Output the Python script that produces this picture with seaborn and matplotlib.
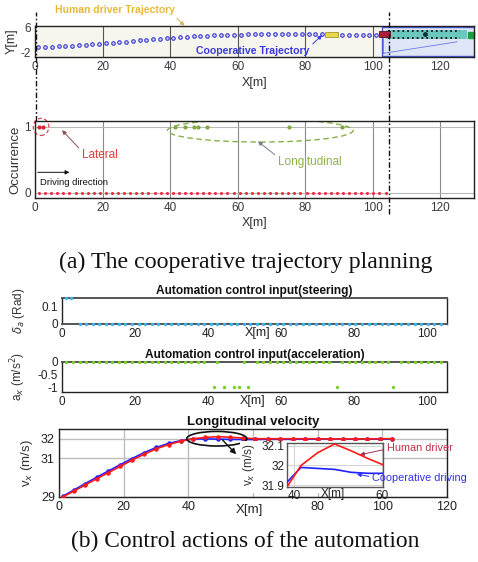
import numpy as np
import pandas as pd
import matplotlib
matplotlib.use("Agg")
import matplotlib.pyplot as plt
import seaborn as sns
from matplotlib.patches import Ellipse, Rectangle

# ---------------- data ----------------
# (a) cooperative trajectory (X [m], Y [m])
traj_x = [1, 3, 5, 7, 9, 11, 13, 15, 17, 19, 21, 23, 25, 27, 29, 31, 33, 35, 37, 39,
          41, 43, 45, 47, 49, 51, 53, 55, 57, 59, 61, 63, 65, 67, 69, 71, 73, 75, 77, 79,
          81, 83, 85, 87, 89, 91, 93, 95, 97, 99, 101, 103]
traj_y = [-0.3, -0.25, -0.2, -0.1, 0.0, 0.1, 0.25, 0.4, 0.55, 0.75, 0.9, 1.1, 1.3, 1.45,
          1.65, 1.85, 2.0, 2.2, 2.4, 2.55, 2.7, 2.85, 3.0, 3.15, 3.3, 3.4, 3.5, 3.6, 3.7,
          3.75, 3.8, 3.85, 3.9, 3.9, 3.9, 3.9, 3.9, 3.9, 3.9, 3.9, 3.9, 3.9, 3.85, 3.85,
          3.85, 3.8, 3.8, 3.8, 3.8, 3.8, 3.8, 3.8]
# scene objects: (x, y, width, height)
yellow_car = (86.0, 3.0, 3.8, 1.5)
red_car = (102.0, 2.9, 3.0, 2.0)
handover_zone = (102.7, -3.3, 27.6, 9.6)
lane_band = (104.0, 2.3, 24.0, 3.0)
handover_x = 104.8

# sampling positions of automation inputs [m]
sample_x = [1.2, 3.0, 4.8, 6.6, 8.4, 10.2, 12.0, 13.8, 15.6, 17.4, 19.2, 21.0, 22.8, 24.6,
            26.4, 28.2, 30.0, 31.8, 33.6, 35.4, 37.2, 39.0, 40.8, 42.6, 44.4, 46.2, 48.0,
            49.8, 51.6, 53.4, 55.2, 57.0, 58.8, 60.6, 62.4, 64.2, 66.0, 67.8, 69.6, 71.4,
            73.2, 75.0, 76.8, 78.6, 80.4, 82.2, 84.0, 85.8, 87.6, 89.4, 91.2, 93.0, 94.8,
            96.6, 98.4, 100.2, 102.0, 103.8]
lat_event_x = [1.2, 2.4]            # lateral (steering) interventions
lat_event_val = 0.15                # rad
long_event_x = [41.6, 44.5, 47.0, 48.4, 51.0, 75.3, 90.8]   # longitudinal interventions
long_event_val = -1.0               # m/s^2

# (b) longitudinal velocity
vel_x = [1.1, 4.6, 8.1, 11.7, 15.3, 18.9, 22.6, 26.3, 30.1, 33.9, 37.7, 41.5, 45.3, 49.2,
         53.0, 56.9, 60.7, 64.6, 68.4, 72.3, 76.1, 80.0, 83.8, 87.7, 91.5, 95.4, 99.2, 103.1]
vel_human = [29.0, 29.3, 29.62, 29.94, 30.26, 30.57, 30.9, 31.2, 31.48, 31.7, 31.87, 32.0,
             32.065, 32.11, 32.075, 32.035, 32.0, 32.0, 32.0, 32.0, 32.0, 32.0, 31.99,
             31.99, 31.99, 31.99, 32.0, 32.0]
vel_coop = [29.03, 29.36, 29.69, 30.02, 30.34, 30.66, 30.98, 31.28, 31.55, 31.76, 31.9,
            31.99, 31.985, 31.98, 31.965, 31.96, 31.96, 31.97, 31.97, 31.97, 31.98, 31.98,
            31.98, 31.98, 31.98, 31.98, 31.98, 31.98]

# ---------------- style ----------------
sns.set_theme(style="white")
plt.rcParams["font.family"] = ["Liberation Sans", "DejaVu Sans"]
plt.rcParams["mathtext.fontset"] = "dejavusans"
plt.rcParams["axes.linewidth"] = 1.0

W, H = 478, 562
fig = plt.figure(figsize=(W / 100, H / 100), dpi=100)


def rect(l, t, r, b):
    return [l / W, 1 - b / H, (r - l) / W, (b - t) / H]


def fp(x, y):
    return (x / W, 1 - y / H)


def style_ax(ax, size=8, color="#333333"):
    ax.tick_params(axis="both", direction="in", length=3, width=0.8, pad=3,
                   labelsize=size, colors=color, labelcolor=color)
    for s in ax.spines.values():
        s.set_color("#222222")
        s.set_linewidth(1.0)


ARW = dict(arrowstyle="-|>", lw=0.7, mutation_scale=6, shrinkA=0, shrinkB=0)

# ================= (a) top: trajectory =================
ax1 = fig.add_axes(rect(35, 26, 474, 57))
ax1.set_facecolor("#f6f6ee")
ax1.set_xlim(0, 130)
ax1.set_ylim(-3.6, 6.6)
ax1.set_xticks([0, 20, 40, 60, 80, 100, 120])
ax1.set_yticks([-2, 6])
ax1.set_yticklabels(["-2", "6"])
ax1.set_axisbelow(True)
ax1.grid(axis="x", color="#555555", lw=0.8)
style_ax(ax1, 8.5, "#3a3a3a")
ax1.set_xlabel("X[m]", fontsize=9, color="#333333", labelpad=3)
ax1.set_ylabel("Y[m]", fontsize=9, color="#333333", labelpad=2)

hx, hy, hw, hh = handover_zone
ax1.add_patch(Rectangle((hx, hy), hw, hh, facecolor="#dfe6f8", edgecolor="#4a5ad8",
                        lw=1.0, zorder=2))
lx, ly, lw_, lh = lane_band
ax1.add_patch(Rectangle((lx, ly), lw_, lh, facecolor="#6cc8bf", edgecolor="none", zorder=2.2))
ax1.plot([lx + 0.5, lx + lw_ - 2], [ly + lh - 0.2, ly + lh - 0.2], ls=":", color="#111111",
         lw=1.3, zorder=2.4)
ax1.plot([lx + 0.5, lx + lw_ - 2], [ly + 0.2, ly + 0.2], ls=":", color="#111111",
         lw=1.3, zorder=2.4)
ax1.plot([hx + 0.4, 125], [-2.4, 1.4], color="#6a78e0", lw=0.6, zorder=2.3)
ax1.plot([hx + 0.4, hx + 0.4], [-2.4, 2.6], color="#6a78e0", lw=0.6, zorder=2.3)
ax1.plot([115.5], [3.9], marker="o", ms=2.5, color="#103030", zorder=2.5)
ax1.plot([129.0], [3.8], marker="s", ms=4.5, color="#1f9e3c", zorder=2.5, clip_on=False)

sns.scatterplot(x=traj_x, y=traj_y, ax=ax1, marker="o", s=6.5, color="#d4d4e8",
                edgecolor="#3a3ad8", linewidth=0.8, zorder=3)
yx, yy, yw, yh = yellow_car
ax1.add_patch(Rectangle((yx, yy), yw, yh, facecolor="#e6d84e", edgecolor="#a89a2a",
                        lw=0.6, zorder=4))
rx, ry, rw, rh = red_car
ax1.add_patch(Rectangle((rx, ry), rw, rh, facecolor="#a8203c", edgecolor="#601020",
                        lw=0.6, zorder=4))

dash = (0, (4, 1.6, 1.2, 1.6))
ax1.axvline(handover_x, ymin=(57 - 214) / 31, ymax=(57 - 12) / 31, color="#111111",
            lw=1.0, ls=dash, clip_on=False, zorder=6)
ax1.axvline(0.2, ymin=(57 - 121) / 31, ymax=(57 - 12) / 31, color="#111111",
            lw=1.0, ls=dash, clip_on=False, zorder=6)

ax1.annotate("Human driver Trajectory", xy=(44.3, 6.6), xycoords="data",
             xytext=fp(55, 10), textcoords="figure fraction", ha="left", va="center",
             fontsize=7.5, fontweight="bold", color="#e8b838",
             arrowprops=dict(ARW, color="#d8b060", relpos=(0.98, 0.1)),
             annotation_clip=False)
ax1.annotate("Cooperative Trajectory", xy=(85.0, 3.6), xycoords="data",
             xytext=fp(196, 51), textcoords="figure fraction", ha="left", va="center",
             fontsize=7.6, fontweight="bold", color="#3a3ae0", zorder=7,
             arrowprops=dict(ARW, color="#3a3ae0", relpos=(1.0, 0.9)),
             annotation_clip=False)

# ================= (a) bottom: occurrence =================
ax2 = fig.add_axes(rect(35, 121, 474, 198))
ax2.set_facecolor("none")
ax2.set_xlim(0, 130)
ax2.set_ylim(-0.08, 1.09)
ax2.set_xticks([0, 20, 40, 60, 80, 100, 120])
ax2.set_yticks([0, 1])
ax2.set_axisbelow(True)
ax2.grid(axis="x", color="#8a8a8a", lw=0.8)
ax2.grid(axis="y", color="#b8b8b8", lw=0.8)
style_ax(ax2, 8.5, "#3a3a3a")
ax2.set_xlabel("X[m]", fontsize=9, color="#333333", labelpad=2)
ax2.set_ylabel("Occurrence", fontsize=9.5, color="#333333", labelpad=2)

occ = pd.DataFrame({"x": sample_x, "y": 0.0})
sns.scatterplot(data=occ, x="x", y="y", ax=ax2, color="#e83040", s=5, linewidth=0,
                zorder=3)
sns.scatterplot(x=lat_event_x, y=[1.0] * len(lat_event_x), ax=ax2, color="#e02030", s=9,
                linewidth=0, zorder=3)
sns.scatterplot(x=long_event_x, y=[1.0] * len(long_event_x), ax=ax2, color="#80a840",
                s=9, linewidth=0, zorder=3)
ax2.add_patch(Ellipse((1.8, 1.0), 4.6, 0.26, fill=False, ls=(0, (3, 2)),
                      edgecolor="#e04050", lw=0.9, clip_on=False))
ax2.add_patch(Ellipse((66.7, 0.945), 55, 0.35, fill=False, ls=(0, (4, 2.5)),
                      edgecolor="#88b048", lw=1.0))

ax2.annotate("Lateral", xy=(8.0, 0.95), xycoords="data", xytext=fp(82, 155),
             textcoords="figure fraction", ha="left", va="center", fontsize=8.5,
             color="#e03a3a", arrowprops=dict(ARW, color="#905050", relpos=(0.0, 0.8)))
ax2.annotate("Longitudinal", xy=(66.0, 0.78), xycoords="data", xytext=fp(278, 162),
             textcoords="figure fraction", ha="left", va="center", fontsize=8.5,
             color="#90b048", arrowprops=dict(ARW, color="#708090", relpos=(0.0, 0.9)))
ax2.annotate("", xy=(10.2, 0.31), xycoords="data", xytext=(0.8, 0.31),
             textcoords="data", arrowprops=dict(ARW, color="#111111"))
ax2.text(1.5, 0.16, "Driving direction", fontsize=6.8, color="#111111", ha="left",
         va="center")

fig.text(246 / W, 1 - 262 / H, "(a) The cooperative trajectory planning", ha="center",
         va="center", fontsize=17.2, family="Liberation Serif", color="#111111")

# ================= (b) steering =================
ax3 = fig.add_axes(rect(62, 298, 447, 324))
ax3.set_xlim(0, 105.5)
ax3.set_ylim(0, 0.15)
ax3.set_xticks([0, 20, 40, 60, 80, 100])
ax3.set_yticks([0, 0.1])
ax3.set_yticklabels(["0", "0.1"])
style_ax(ax3, 8.5, "#222222")
for s in ("top", "bottom"):
    ax3.spines[s].set_color("#555555")
    ax3.spines[s].set_linewidth(1.4)
steer_zero = [x for x in sample_x if x > 3.2]
sns.scatterplot(x=steer_zero, y=[0.0] * len(steer_zero), ax=ax3, color="#3cb4ee", s=6,
                linewidth=0, zorder=4, clip_on=False)
sns.scatterplot(x=lat_event_x, y=[lat_event_val] * len(lat_event_x), ax=ax3,
                color="#3cb4ee", s=6, linewidth=0, zorder=4, clip_on=False)
ax3.set_title("Automation control input(steering)", fontsize=8.6, fontweight="bold",
              pad=3, color="#111111")
ax3.set_xlabel("X[m]", fontsize=9, color="#222222")
ax3.xaxis.set_label_coords(0.508, -0.1)
ax3.set_ylabel(r"$\delta_a$ (Rad)", fontsize=8.5, color="#333333", labelpad=10)

# ================= (b) acceleration =================
ax4 = fig.add_axes(rect(62, 362, 447, 392))
ax4.set_xlim(0, 105.5)
ax4.set_ylim(-1.2, 0.0)
ax4.set_xticks([0, 20, 40, 60, 80, 100])
ax4.set_yticks([-1, -0.5, 0])
ax4.set_yticklabels(["-1", "-0.5", "0"])
style_ax(ax4, 8.5, "#222222")
ax4.spines["top"].set_color("#555555")
ax4.spines["top"].set_linewidth(1.4)
acc_zero = [x for x in sample_x if min(abs(x - e) for e in long_event_x) > 0.9]
sns.scatterplot(x=acc_zero, y=[0.0] * len(acc_zero), ax=ax4, color="#78d028", s=6,
                linewidth=0, zorder=4, clip_on=False)
sns.scatterplot(x=long_event_x, y=[long_event_val] * len(long_event_x), ax=ax4,
                color="#78d028", s=6, linewidth=0, zorder=4, clip_on=False)
ax4.set_title("Automation control input(acceleration)", fontsize=8.6, fontweight="bold",
              pad=3, color="#111111")
ax4.set_xlabel("X[m]", fontsize=9, color="#222222")
ax4.xaxis.set_label_coords(0.494, -0.09)
ax4.set_ylabel(r"a$_x$ (m/s$^2$)", fontsize=8.5, color="#333333", labelpad=7)

# ================= (b) velocity =================
ax5 = fig.add_axes(rect(59, 429, 447, 497))
ax5.set_xlim(0, 120)
ax5.set_ylim(29, 32.5)
ax5.set_xticks([0, 20, 40, 60, 80, 100, 120])
ax5.set_xticklabels(["0", "20", "40", "", "80", "100", "120"])
ax5.set_yticks([29, 31, 32])
ax5.set_axisbelow(True)
ax5.grid(True, color="#bdbdbd", lw=1.0)
style_ax(ax5, 9, "#222222")
sns.lineplot(x=vel_x, y=vel_coop, ax=ax5, color="#2020ff", lw=1.2, marker="o",
             markersize=3.2, markeredgewidth=0, zorder=3)
sns.lineplot(x=vel_x, y=vel_human, ax=ax5, color="#ff1a1a", lw=1.2, marker="o",
             markersize=3.2, markeredgewidth=0, zorder=4)
ax5.add_patch(Ellipse((48.8, 32.0), 18.6, 0.75, fill=False, edgecolor="#111111",
                      lw=1.2, zorder=5))
ax5.annotate("", xy=(54.8, 31.2), xytext=(50.6, 31.93),
             arrowprops=dict(ARW, color="#111111", lw=1.0, mutation_scale=8))
ax5.set_title("Longitudinal velocity", fontsize=9.5, fontweight="bold", pad=3,
              color="#111111")
ax5.set_xlabel("X[m]", fontsize=9.5, color="#222222")
ax5.xaxis.set_label_coords(0.49, -0.1)
ax5.set_ylabel(r"v$_x$ (m/s)", fontsize=9.5, color="#333333", labelpad=4)

# white backdrop of the inset (covers its labels region, as in the original figure)
fig.patches.append(Rectangle(fp(240, 493), 144 / W, 52 / H, transform=fig.transFigure,
                             facecolor="white", edgecolor="none", zorder=2.5))

# inset
ax6 = fig.add_axes(rect(287, 443, 383, 487))
ax6.set_facecolor("white")
ax6.set_zorder(3)
ax6.set_xlim(38.3, 60.3)
ax6.set_ylim(31.89, 32.115)
ax6.set_xticks([40, 60])
ax6.set_yticks([31.9, 32.0, 32.1])
ax6.set_yticklabels(["31.9", "32", "32.1"])
ax6.set_axisbelow(True)
ax6.grid(True, color="#d4d4d4", lw=0.8)
style_ax(ax6, 8.5, "#222222")
ax6.tick_params(pad=2)
for s in ax6.spines.values():
    s.set_color("#555555")
sns.lineplot(x=vel_x, y=vel_coop, ax=ax6, color="#2020ff", lw=1.2, zorder=3)
sns.lineplot(x=vel_x, y=vel_human, ax=ax6, color="#ff1a1a", lw=1.2, zorder=4)
ax6.set_xlabel("X[m]", fontsize=8.5, color="#222222")
ax6.xaxis.set_label_coords(0.48, -0.02)
ax6.set_ylabel(r"v$_x$ (m/s)", fontsize=8.5, color="#333333", labelpad=3)

ax6.annotate("Human driver", xy=(55.0, 32.055), xycoords="data", xytext=fp(387, 448),
             textcoords="figure fraction", ha="left", va="center", fontsize=7.8,
             color="#c03048", arrowprops=dict(ARW, color="#a03048", relpos=(0.0, 0.4)),
             annotation_clip=False)
ax6.annotate("Cooperative driving", xy=(54.3, 31.956), xycoords="data",
             xytext=fp(372, 478), textcoords="figure fraction", ha="left", va="center",
             fontsize=7.8, color="#3030f0",
             arrowprops=dict(ARW, color="#3030f0", relpos=(0.0, 0.6)),
             annotation_clip=False)

fig.text(245 / W, 1 - 541 / H, "(b) Control actions of the automation", ha="center",
         va="center", fontsize=16.8, family="Liberation Serif", color="#111111")

fig.savefig("out.png", dpi=100)
